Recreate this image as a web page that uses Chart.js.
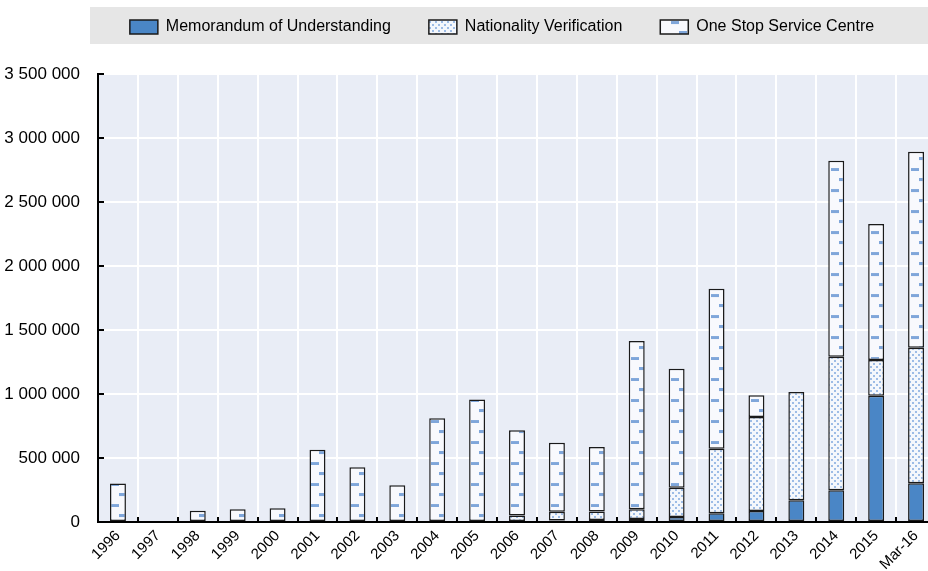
<!DOCTYPE html>
<html lang="en">
<head>
    <meta charset="UTF-8">
    <title>Migrant worker registrations by channel</title>
    <style>
        body { margin: 0; overflow: hidden; background: #fff; }
        #wrap { width: 940px; height: 571px; }
    </style>
</head>
<body>
    <div id="wrap"><canvas id="myChart"></canvas></div>

    <script src="https://cdn.jsdelivr.net/npm/chart.js"></script>
    <script>
    // values
    var years = ['1996', '1997', '1998', '1999', '2000', '2001', '2002', '2003', '2004', '2005',
                 '2006', '2007', '2008', '2009', '2010', '2011', '2012', '2013', '2014', '2015', 'Mar-16'];
    var mou = [0, 0, 0, 0, 0, 0, 0, 0, 0, 0,
               0, 12000, 15000, 23000, 39000, 68000, 86000, 170000, 248000, 987000, 302000];
    var nv  = [0, 0, 0, 0, 0, 0, 0, 0, 0, 0,
               50000, 68000, 68000, 77000, 229000, 505000, 734000, 846000, 1043000, 279000, 1060000];
    var oss = [300000, 0, 88000, 100000, 107000, 565000, 427000, 287000, 810000, 958000,
               666000, 540000, 503000, 1314000, 930000, 1250000, 170000, 0, 1532000, 1062000, 1531000];
    var seriesNames = ['Memorandum of Understanding', 'Nationality Verification', 'One Stop Service Centre'];

    var FONT = '"Liberation Sans", Arial, sans-serif';
    var LEGEND_PAD = 38;

    // dotted fill for Nationality Verification
    function dotPattern() {
        var c = document.createElement('canvas');
        c.width = 6; c.height = 6;
        var g = c.getContext('2d');
        g.fillStyle = '#f4f7fc';
        g.fillRect(0, 0, 6, 6);
        g.fillStyle = '#9dbce6';
        g.fillRect(0, 0, 2, 2);
        g.fillRect(3, 3, 2, 2);
        return g.createPattern(c, 'repeat');
    }

    // staggered dashes for One Stop Service Centre, one tile per category
    function dashPattern() {
        var c = document.createElement('canvas');
        c.width = 40; c.height = 21;
        var g = c.getContext('2d');
        g.fillStyle = '#f8f9fd';
        g.fillRect(0, 0, 40, 21);
        g.fillStyle = '#7fa6da';
        g.fillRect(1, 3, 8, 3);
        g.fillRect(9, 13, 8, 3);
        return g.createPattern(c, 'repeat');
    }
    var dashes = dashPattern();

    var bgPlugin = {
        id: 'bg',
        beforeInit: function(chart) {
            var fit = chart.legend.fit;
            chart.legend.fit = function() {
                fit.call(this);
                this.height = 67;
            };
        },
        afterLayout: function(chart) {
            // place the legend row inside the grey band
            chart.legend.left = 80;
            chart.legend.right = 924;
            chart.legend.top = 19 - LEGEND_PAD;
            var x = chart.scales.x;
            dashes.setTransform(new DOMMatrix().translate(x.getPixelForTick(0) - 8, chart.chartArea.bottom));
        },
        beforeDraw: function(chart) {
            var ctx = chart.ctx, a = chart.chartArea;
            ctx.save();
            ctx.fillStyle = '#e6e6e6';
            ctx.fillRect(a.left - 8, 7, chart.width, 37);
            ctx.fillStyle = '#e9edf6';
            ctx.fillRect(a.left, a.top, a.right - a.left, a.bottom - a.top);
            ctx.restore();
        },
        afterDraw: function(chart) {
            // small inward tick marks
            var ctx = chart.ctx, a = chart.chartArea;
            var x = chart.scales.x, y = chart.scales.y;
            ctx.save();
            ctx.strokeStyle = '#000';
            ctx.lineWidth = 2;
            ctx.beginPath();
            y.ticks.forEach(function(t, i) {
                var py = Math.round(y.getPixelForTick(i));
                ctx.moveTo(a.left, py);
                ctx.lineTo(a.left + 6, py);
            });
            for (var i = 1; i < years.length; i++) {
                var px = Math.round((x.getPixelForTick(i - 1) + x.getPixelForTick(i)) / 2);
                ctx.moveTo(px, a.bottom);
                ctx.lineTo(px, a.bottom - 5);
            }
            ctx.stroke();
            ctx.restore();
        }
    };

    var ctx = document.getElementById('myChart').getContext('2d');
    var fills = ['#4a86c6', dotPattern(), dashes];
    var values = [mou, nv, oss];

    var data = {
        labels: years,
        datasets: seriesNames.map(function(name, i) {
            return {
                label: name,
                data: values[i],
                backgroundColor: fills[i],
                borderColor: '#1a1a1a',
                borderWidth: 1.5,
                borderSkipped: false,
                barPercentage: 0.4,
                categoryPercentage: 1.0
            };
        })
    };

    var options = {
        responsive: true,
        maintainAspectRatio: false,
        animation: false,
        layout: { padding: { top: 7, right: 4, left: 0, bottom: 0 } },
        plugins: {
            legend: {
                position: 'top',
                fullSize: true,
                labels: {
                    font: { family: FONT, size: 16 },
                    color: '#000',
                    boxWidth: 28,
                    boxHeight: 14,
                    padding: LEGEND_PAD
                }
            },
            tooltip: { enabled: false }
        },
        scales: {
            x: {
                stacked: true,
                grid: { color: '#ffffff', lineWidth: 2, drawTicks: false, offset: true },
                border: { color: '#000', width: 2 },
                ticks: {
                    font: { family: FONT, size: 15 },
                    color: '#000',
                    maxRotation: 45,
                    minRotation: 45,
                    padding: 5,
                    autoSkip: false
                },
                afterFit: function(s) { s.height = 49; }
            },
            y: {
                stacked: true,
                min: 0,
                max: 3500000,
                grid: { color: '#ffffff', lineWidth: 2, drawTicks: false },
                border: { color: '#000', width: 2 },
                ticks: {
                    stepSize: 500000,
                    font: { family: FONT, size: 17 },
                    color: '#000',
                    padding: 18,
                    callback: function(v) {
                        return String(v).replace(/\B(?=(\d{3})+(?!\d))/g, ' ');
                    }
                },
                afterFit: function(s) { s.width = 98; }
            }
        }
    };

    window.myChart = new Chart(ctx, {
        type: 'bar',
        data: data,
        options: options,
        plugins: [bgPlugin]
    });
    </script>
</body>
</html>
